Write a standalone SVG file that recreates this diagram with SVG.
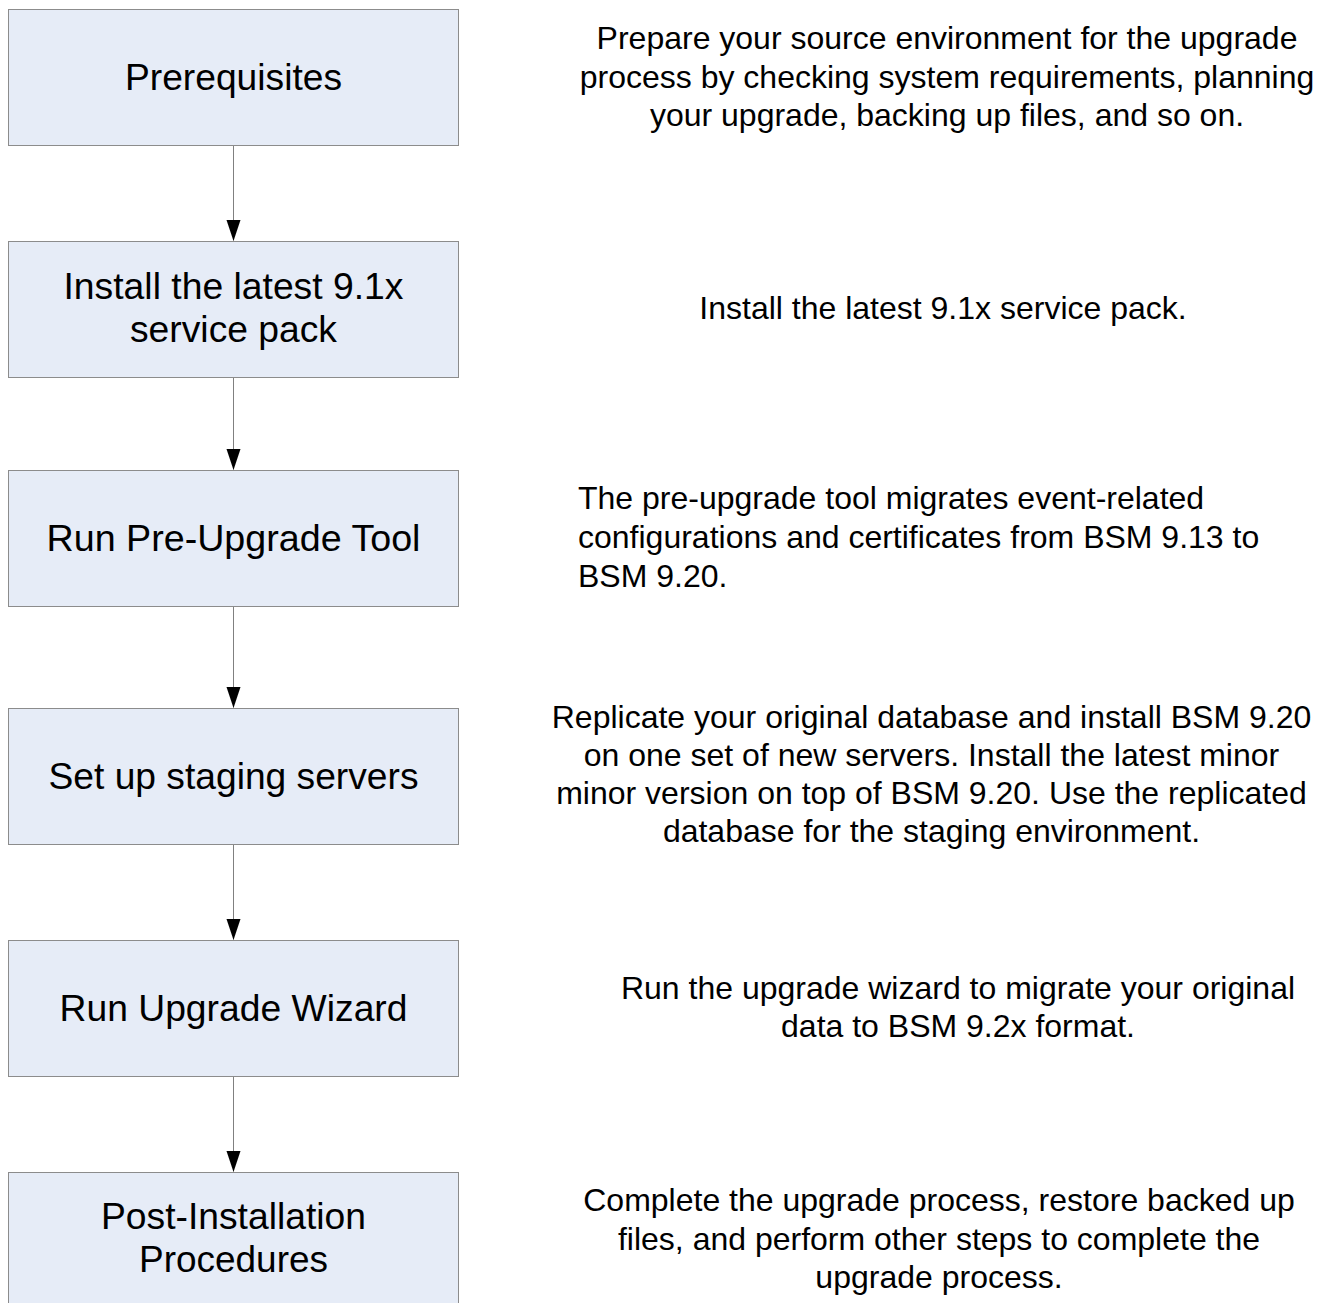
<svg xmlns="http://www.w3.org/2000/svg" width="1329" height="1303" viewBox="0 0 1329 1303">
<style>
.box{fill:#E6ECF7;stroke:#8C8C8C;stroke-width:1}
.lbl{font-family:"Liberation Sans",Arial,sans-serif;font-size:37px;fill:#000;text-anchor:middle}
.desc{font-family:"Liberation Sans",Arial,sans-serif;font-size:32px;fill:#000;text-anchor:middle}
.descl{font-family:"Liberation Sans",Arial,sans-serif;font-size:32px;fill:#000}
.conn{stroke:#808080;stroke-width:1;fill:none}
</style>
<rect width="1329" height="1303" fill="#fff"/>
<g id="connectors">
<line class="conn" x1="233.5" y1="145.5" x2="233.5" y2="240.5"/>
<path d="M226.5,220 L240.5,220 L233.5,241 Z" fill="#000"/>
<line class="conn" x1="233.5" y1="377.5" x2="233.5" y2="469.5"/>
<path d="M226.5,449 L240.5,449 L233.5,470 Z" fill="#000"/>
<line class="conn" x1="233.5" y1="606.5" x2="233.5" y2="707.5"/>
<path d="M226.5,687 L240.5,687 L233.5,708 Z" fill="#000"/>
<line class="conn" x1="233.5" y1="844.5" x2="233.5" y2="939.5"/>
<path d="M226.5,919 L240.5,919 L233.5,940 Z" fill="#000"/>
<line class="conn" x1="233.5" y1="1076.5" x2="233.5" y2="1171.5"/>
<path d="M226.5,1151 L240.5,1151 L233.5,1172 Z" fill="#000"/>
</g>
<g id="node-prerequisites">
<rect class="box" x="8.5" y="9.5" width="450" height="136"/>
<text class="lbl" x="233.5" y="90" textLength="217" lengthAdjust="spacingAndGlyphs">Prerequisites</text>
</g>
<g id="node-install-sp">
<rect class="box" x="8.5" y="241.5" width="450" height="136"/>
<text class="lbl" x="233.5" y="299" textLength="340" lengthAdjust="spacingAndGlyphs">Install the latest 9.1x</text>
<text class="lbl" x="233.5" y="342" textLength="207" lengthAdjust="spacingAndGlyphs">service pack</text>
</g>
<g id="node-preupgrade">
<rect class="box" x="8.5" y="470.5" width="450" height="136"/>
<text class="lbl" x="233.5" y="551" textLength="374" lengthAdjust="spacingAndGlyphs">Run Pre-Upgrade Tool</text>
</g>
<g id="node-staging">
<rect class="box" x="8.5" y="708.5" width="450" height="136"/>
<text class="lbl" x="233.5" y="789" textLength="370" lengthAdjust="spacingAndGlyphs">Set up staging servers</text>
</g>
<g id="node-wizard">
<rect class="box" x="8.5" y="940.5" width="450" height="136"/>
<text class="lbl" x="233.5" y="1021" textLength="348" lengthAdjust="spacingAndGlyphs">Run Upgrade Wizard</text>
</g>
<g id="node-post">
<rect class="box" x="8.5" y="1172.5" width="450" height="140"/>
<text class="lbl" x="233.5" y="1229" textLength="265" lengthAdjust="spacingAndGlyphs">Post-Installation</text>
<text class="lbl" x="233.5" y="1272" textLength="189" lengthAdjust="spacingAndGlyphs">Procedures</text>
</g>
<g id="desc-prerequisites">
<text class="desc" x="947" y="49">Prepare your source environment for the upgrade</text>
<text class="desc" x="947" y="88">process by checking system requirements, planning</text>
<text class="desc" x="947" y="126">your upgrade, backing up files, and so on.</text>
</g>
<g id="desc-install-sp">
<text class="desc" x="943" y="319">Install the latest 9.1x service pack.</text>
</g>
<g id="desc-preupgrade">
<text class="descl" x="578" y="509">The pre-upgrade tool migrates event-related</text>
<text class="descl" x="578" y="548">configurations and certificates from BSM 9.13 to</text>
<text class="descl" x="578" y="587">BSM 9.20.</text>
</g>
<g id="desc-staging">
<text class="desc" x="931.5" y="728">Replicate your original database and install BSM 9.20</text>
<text class="desc" x="931.5" y="766">on one set of new servers. Install the latest minor</text>
<text class="desc" x="931.5" y="804">minor version on top of BSM 9.20. Use the replicated</text>
<text class="desc" x="931.5" y="842">database for the staging environment.</text>
</g>
<g id="desc-wizard">
<text class="desc" x="958" y="999">Run the upgrade wizard to migrate your original</text>
<text class="desc" x="958" y="1037">data to BSM 9.2x format.</text>
</g>
<g id="desc-post">
<text class="desc" x="939" y="1211">Complete the upgrade process, restore backed up</text>
<text class="desc" x="939" y="1250">files, and perform other steps to complete the</text>
<text class="desc" x="939" y="1288">upgrade process.</text>
</g>
</svg>
